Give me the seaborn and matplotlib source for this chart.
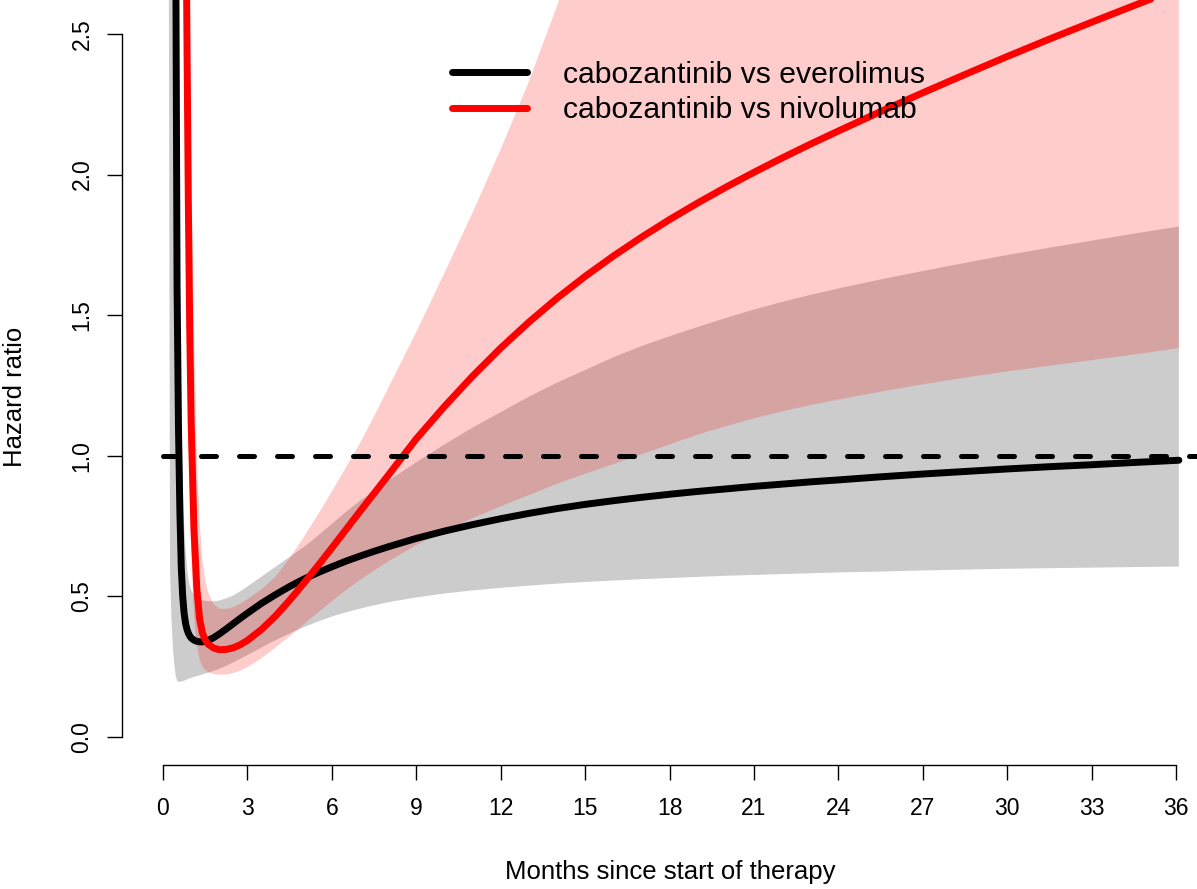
import numpy as np
import pandas as pd
import matplotlib
matplotlib.use('Agg')
import matplotlib.pyplot as plt
import seaborn as sns

# time grid (months) shared by both curves and their bands
months = [0.2, 0.25, 0.3, 0.35, 0.4, 0.45, 0.5, 0.55, 0.6, 0.65,
          0.7, 0.75, 0.8, 0.85, 0.9, 0.95, 1.0, 1.1, 1.2, 1.3,
          1.4, 1.5, 1.6, 1.8, 2.0, 2.25, 2.5, 2.75, 3, 3.5,
          4, 4.5, 5, 5.5, 6, 6.5, 7, 7.5, 8, 9,
          10, 11, 12, 13, 14, 15, 16, 17, 18, 19,
          20, 21, 22, 23, 24, 25.5, 27, 28.5, 30, 31.5,
          33, 34.5, 36.1]

nan = np.nan

# cabozantinib vs everolimus: hazard ratio and confidence band
hr_eve = [nan, nan, nan, nan, nan, 2.9, 1.6, 1.1, 0.8, 0.6,
          0.5, 0.44, 0.405, 0.383, 0.369, 0.359, 0.352, 0.344, 0.34, 0.338,
          0.338, 0.34, 0.343, 0.353, 0.366, 0.384, 0.403, 0.422, 0.44, 0.475,
          0.506, 0.535, 0.561, 0.584, 0.605, 0.625, 0.643, 0.66, 0.676, 0.706,
          0.732, 0.755, 0.776, 0.795, 0.812, 0.827, 0.84, 0.852, 0.863, 0.873,
          0.882, 0.891, 0.899, 0.907, 0.914, 0.925, 0.935, 0.944, 0.953, 0.961,
          0.968, 0.976, 0.984]
lo_eve = [3.0, 0.6, 0.42, 0.32, 0.26, 0.218, 0.2, 0.196, 0.196, 0.197,
          0.198, 0.2, 0.202, 0.204, 0.206, 0.208, 0.21, 0.213, 0.216, 0.219,
          0.222, 0.225, 0.228, 0.235, 0.242, 0.253, 0.265, 0.278, 0.291, 0.318,
          0.344, 0.368, 0.39, 0.41, 0.428, 0.443, 0.456, 0.468, 0.479, 0.496,
          0.51, 0.521, 0.53, 0.538, 0.545, 0.551, 0.556, 0.561, 0.565, 0.569,
          0.573, 0.576, 0.579, 0.582, 0.585, 0.588, 0.592, 0.595, 0.598, 0.6,
          0.602, 0.604, 0.606]
hi_eve = [12, 10, 8, 7, 6, 4.5, 3.3, 2.4, 1.6, 1.15,
          0.9, 0.76, 0.67, 0.605, 0.565, 0.54, 0.522, 0.505, 0.495, 0.489,
          0.486, 0.484, 0.483, 0.482, 0.485, 0.493, 0.503, 0.518, 0.535, 0.57,
          0.605, 0.64, 0.675, 0.715, 0.758, 0.8, 0.84, 0.875, 0.91, 0.977,
          1.04, 1.10, 1.155, 1.21, 1.26, 1.305, 1.35, 1.39, 1.425, 1.458,
          1.49, 1.52, 1.547, 1.572, 1.595, 1.627, 1.657, 1.686, 1.714, 1.74,
          1.765, 1.79, 1.815]

# cabozantinib vs nivolumab
hr_niv = [nan, nan, nan, nan, nan, nan, nan, nan, nan, nan,
          nan, nan, 3.2, 2.5, 1.9, 1.45, 1.12, 0.74, 0.53, 0.42,
          0.37, 0.345, 0.33, 0.316, 0.31, 0.311, 0.317, 0.328, 0.343, 0.382,
          0.43, 0.486, 0.546, 0.608, 0.672, 0.737, 0.802, 0.866, 0.93, 1.06,
          1.175, 1.283, 1.383, 1.475, 1.56, 1.638, 1.71, 1.777, 1.84, 1.899,
          1.955, 2.008, 2.059, 2.108, 2.155, 2.224, 2.291, 2.356, 2.42, 2.482,
          2.542, 2.601, 2.663]
lo_niv = [nan, nan, nan, nan, nan, nan, nan, nan, nan, nan,
          3.5, 2.6, 1.9, 1.45, 1.1, 0.84, 0.66, 0.43, 0.325, 0.275,
          0.25, 0.238, 0.231, 0.224, 0.221, 0.222, 0.227, 0.236, 0.248, 0.28,
          0.318, 0.358, 0.4, 0.442, 0.483, 0.522, 0.558, 0.592, 0.624, 0.682,
          0.733, 0.778, 0.82, 0.86, 0.9, 0.936, 0.97, 1.005, 1.04, 1.075,
          1.105, 1.133, 1.158, 1.18, 1.2, 1.228, 1.254, 1.278, 1.3, 1.32,
          1.34, 1.36, 1.383]
hi_niv = [nan, nan, nan, nan, nan, nan, nan, nan, nan, nan,
          8, 6.5, 5, 4, 3.1, 2.5, 2.05, 1.45, 1.0, 0.77,
          0.63, 0.56, 0.515, 0.472, 0.456, 0.455, 0.462, 0.474, 0.49, 0.525,
          0.57, 0.635, 0.71, 0.79, 0.873, 0.958, 1.045, 1.14, 1.24, 1.44,
          1.65, 1.865, 2.09, 2.33, 2.6, 2.9, 3.2, 3.5, 3.8, 4.1,
          4.4, 4.7, 5.0, 5.3, 5.6, 6.05, 6.5, 6.95, 7.4, 7.85,
          8.3, 8.75, 9.2]

labels = ["cabozantinib vs everolimus", "cabozantinib vs nivolumab"]
x_ticks = list(range(0, 37, 3))
y_ticks = [0.0, 0.5, 1.0, 1.5, 2.0, 2.5]
null_hr = 1.0

df_eve = pd.DataFrame({"month": months, "hr": hr_eve})
df_niv = pd.DataFrame({"month": months, "hr": hr_niv})

sns.set_style('ticks')
plt.rcParams['font.family'] = ['Liberation Sans', 'DejaVu Sans']
plt.rcParams['text.color'] = 'black'
plt.rcParams['xtick.color'] = 'black'
plt.rcParams['ytick.color'] = 'black'

fig = plt.figure(figsize=(11.97, 8.89), dpi=100)
ax = fig.add_axes([122/1197, 124/889, 1075/1197, 765/889])

x_lo, x_hi = -1.457, 36.745
y_lo, y_hi = -0.1, 2.621

# layer order as in the original: grey band, black line, red band, red line
ax.fill_between(months, lo_eve, hi_eve, color='black', alpha=0.2, lw=0)
sns.lineplot(data=df_eve, x="month", y="hr", color='black', lw=5, ax=ax,
             estimator=None, solid_capstyle='round')
line_eve = ax.lines[-1]
ax.fill_between(months, lo_niv, hi_niv, color='red', alpha=0.2, lw=0)
sns.lineplot(data=df_niv, x="month", y="hr", color='red', lw=5, ax=ax,
             estimator=None, solid_capstyle='round')
line_niv = ax.lines[-1]

ax.axhline(null_hr, xmin=(0 - x_lo)/(x_hi - x_lo), xmax=1, color='black',
           lw=3.6, dashes=(3, 4.6), dash_capstyle='round')

ax.set_xlim(x_lo, x_hi)
ax.set_ylim(y_lo, y_hi)
ax.set_xticks(x_ticks)
ax.set_xticklabels([str(t) for t in x_ticks])
ax.set_yticks(y_ticks)
ax.set_yticklabels([f"{t:.1f}" for t in y_ticks], rotation=90, va='center')

for s in ['top', 'right']:
    ax.spines[s].set_visible(False)
ax.spines['left'].set_bounds(0, 2.5)
ax.spines['bottom'].set_bounds(0, 36)
for s in ['left', 'bottom']:
    ax.spines[s].set_linewidth(1.0)
    ax.spines[s].set_color('black')
ax.tick_params(axis='both', direction='out', length=10.5, width=1.0,
               color='black', labelsize=16.5)
ax.tick_params(axis='x', pad=12.5)
ax.tick_params(axis='y', pad=10)
ax.set_xlabel("")
ax.set_ylabel("")

fig.text(670/1197, 1 - 872/889, "Months since start of therapy",
         ha='center', va='center', fontsize=18.5)
fig.text(15/1197, 1 - 397/889, "Hazard ratio", rotation=90,
         ha='center', va='center', fontsize=18.5)

ax.legend(handles=[line_eve, line_niv], labels=labels, frameon=False,
          loc='upper left', bbox_to_anchor=(452/1197, 1 - 61/889),
          bbox_transform=fig.transFigure, fontsize=21.7, handlelength=2.5,
          handletextpad=1.17, labelspacing=0.24, borderpad=0, borderaxespad=0)

fig.savefig("out.png", dpi=100)
